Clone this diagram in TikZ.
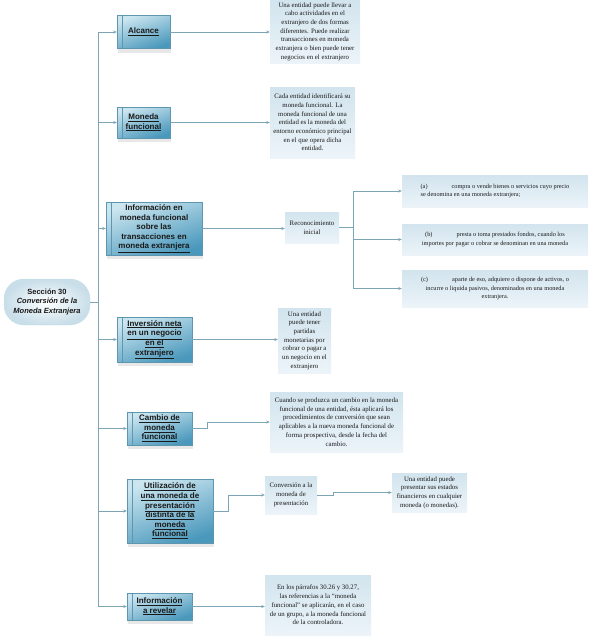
\documentclass[tikz,border=0pt]{standalone}
\usepackage{fontspec}
\setmainfont{Liberation Serif}
\setsansfont{Liberation Sans}
\usetikzlibrary{arrows.meta,shadows}
\definecolor{linkcol}{RGB}{125,165,182}
\definecolor{boxtop}{RGB}{204,230,240}
\definecolor{boxbot}{RGB}{74,152,188}
\definecolor{boxedge}{RGB}{95,150,175}
\definecolor{notetop}{RGB}{210,228,238}
\definecolor{notebot}{RGB}{236,244,249}
\definecolor{rootedge}{RGB}{200,222,233}
\definecolor{inktext}{RGB}{25,25,25}

\begin{document}
\begin{tikzpicture}[x=1pt,y=-1pt,
  topic/.style={draw=boxedge, line width=0.4pt, top color=boxtop, bottom color=boxbot,
    shading angle=20, inner sep=0pt, align=center, text=inktext,
    font=\sffamily\bfseries\fontsize{8}{9.6}\selectfont,
    drop shadow={shadow xshift=1pt, shadow yshift=-4pt, opacity=0.18, fill=black!50},
    path picture={\draw[boxedge, line width=0.4pt]
      ([xshift=5pt]path picture bounding box.north west) --
      ([xshift=5pt]path picture bounding box.south west);}},
  note/.style={top color=notetop, bottom color=notebot, inner sep=1pt, align=center,
    text=inktext, font=\fontsize{6.8}{8.7}\selectfont},
  notesmall/.style={note, font=\fontsize{6.3}{8.2}\selectfont},
  root/.style={draw=rootedge, line width=0.4pt, rounded corners=20pt, inner color=white,
    outer color=rootedge, align=center, text=inktext, inner sep=0pt,
    font=\sffamily\bfseries\fontsize{7.5}{9.2}\selectfont},
  link/.style={draw=linkcol, line width=0.6pt},
  arr/.style={link, -{Stealth[length=3.5pt,width=3pt]}}]
\useasboundingbox (0,0) rectangle (591,640);

% root
\node[root, minimum width=86, minimum height=46] (root) at (47,302)
  {Sección 30\\\textit{Conversión de la}\\\textit{Moneda Extranjera}};

% topics
\node[topic, minimum width=53, minimum height=33] (alc) at (143.5,32) {\underline{Alcance}};
\node[topic, minimum width=53, minimum height=31] (mon) at (143.5,122.5)
  {\underline{Moneda}\\\underline{funcional}};
\node[topic, minimum width=96, minimum height=53] (inf) at (154,228.5)
  {Información en\\moneda funcional\\sobre las\\transacciones en\\\underline{moneda extranjera}};
\node[topic, minimum width=75, minimum height=45] (inv) at (154.5,339.5)
  {\underline{Inversión neta}\\\underline{en un negocio}\\\underline{en el}\\\underline{extranjero}};
\node[topic, minimum width=65, minimum height=33] (cam) at (159.5,428.5)
  {\underline{Cambio de}\\\underline{moneda}\\\underline{funcional}};
\node[topic, minimum width=86, minimum height=64] (uti) at (170,511)
  {\underline{Utilización de}\\\underline{una moneda de}\\\underline{presentación}\\\underline{distinta de la}\\\underline{moneda}\\\underline{funcional}};
\node[topic, minimum width=65, minimum height=27] (rev) at (159.5,606.5)
  {\underline{Información}\\\underline{a revelar}};

% notes
\node[note, minimum width=90, minimum height=63] (alcnote) at (315,31.5)
  {Una entidad puede llevar a\\cabo actividades en el\\extranjero de dos formas\\diferentes. Puede realizar\\transacciones en moneda\\extranjera o bien puede tener\\negocios en el extranjero};
\node[note, minimum width=85, minimum height=71] (monnote) at (312.5,122.5)
  {Cada entidad identificará su\\moneda funcional. La\\moneda funcional de una\\entidad es la moneda del\\entorno económico principal\\en el que opera dicha\\entidad.};
\node[note, minimum width=54, minimum height=31] (rec) at (312,227.5)
  {Reconocimiento\\inicial};
\node[notesmall, minimum width=186, minimum height=32, align=left] (recA) at (495,191)
  {(a)\hspace{24pt}compra o vende bienes o servicios cuyo precio\\se denomina en una moneda extranjera;};
\node[notesmall, minimum width=186, minimum height=31] (recB) at (495,239.5)
  {(b)\hspace{24pt}presta o toma prestados fondos, cuando los\\importes por pagar o cobrar se denominan en una moneda};
\node[notesmall, minimum width=186, minimum height=37] (recC) at (495,288.5)
  {(c)\hspace{24pt}aparte de eso, adquiere o dispone de activos, o\\incurre o liquida pasivos, denominados en una moneda\\extranjera.};
\node[note, minimum width=53, minimum height=65] (invnote) at (304.5,340.5)
  {Una entidad\\puede tener\\partidas\\monetarias por\\cobrar o pagar a\\un negocio en el\\extranjero};
\node[note, minimum width=133, minimum height=60] (camnote) at (336.5,422)
  {Cuando se produzca un cambio en la moneda\\funcional de una entidad, ésta aplicará los\\procedimientos de conversión que sean\\aplicables a la nueva moneda funcional de\\forma prospectiva, desde la fecha del\\cambio.};
\node[note, minimum width=52, minimum height=38] (conv) at (291,495)
  {Conversión a la\\moneda de\\presentación};
\node[note, minimum width=75, minimum height=39] (convnote) at (429.5,492.5)
  {Una entidad puede\\presentar sus estados\\financieros en cualquier\\moneda (o monedas).};
\node[note, minimum width=106, minimum height=60] (revnote) at (318,605)
  {En los párrafos 30.26 y 30.27,\\las referencias a la ``moneda\\funcional'' se aplicarán, en el caso\\de un grupo, a la moneda funcional\\de la controladora.};

% trunk
\coordinate (tr) at (98,0);
\draw[link] (root.east) -- (root.east -| tr);
\draw[link] (alc.west -| tr) -- (rev.west -| tr);
\foreach \n in {alc,mon,inf,inv,cam,uti,rev}
  \draw[arr] (\n.west -| tr) -- (\n.west);

% branches
\draw[arr] (alc.east) -- (alc.east -| alcnote.west);
\draw[arr] (mon.east) -- (mon.east -| monnote.west);
\draw[arr] (inf.east) -- (inf.east -| rec.west);
\draw[arr] (inv.east) -- (inv.east -| invnote.west);
\draw[arr] (rev.east) -- (rev.east -| revnote.west);
\draw[arr] (cam.east) -- ++(15,0) |- (camnote.west);
\draw[arr] (uti.east) -- ++(15,0) |- (conv.west);
\draw[arr] (conv.east) -- ++(16,0) |- (convnote.west);
\draw[link] (rec.east) -- ++(14,0) coordinate (split);
\draw[arr] (split) |- (recA.west);
\draw[arr] (split) |- (recB.west);
\draw[arr] (split) |- (recC.west);
\end{tikzpicture}
\end{document}
